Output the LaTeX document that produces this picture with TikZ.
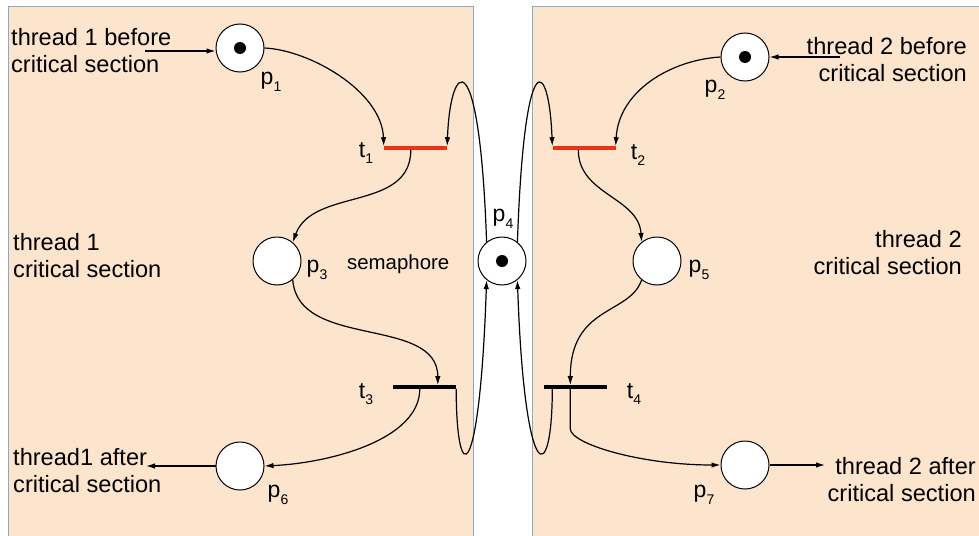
\documentclass[tikz,border=0pt]{standalone}
\usepackage{fontspec}
\setmainfont{Liberation Sans}
\usetikzlibrary{positioning,calc,arrows.meta}
\definecolor{PanelFill}{RGB}{253,228,205}
\definecolor{PanelLine}{RGB}{140,168,200}
\definecolor{FireRed}{RGB}{236,50,18}
\newcommand{\idx}[2]{#1\raisebox{-6.5pt}{\fontsize{14}{14}\selectfont #2}}

\begin{document}
\begin{tikzpicture}[x=1pt, y=-1pt,
  place/.style={circle, draw, fill=white, line width=1pt, minimum size=48pt, inner sep=0pt},
  tbar/.style={rectangle, fill=black, minimum width=63pt, minimum height=3.2pt, inner sep=0pt},
  tfire/.style={tbar, fill=FireRed},
  lbl/.style={inner sep=0pt, font=\fontsize{23}{26}\selectfont},
  txt/.style={inner sep=0pt, font=\fontsize{23.6}{27}\selectfont},
  arcline/.style={-{Latex[length=9pt,width=5.5pt]}, line width=1.2pt}
]
  \useasboundingbox (0,0) rectangle (979,535);
  \clip (0,0) rectangle (979,535);

  % the two thread panels
  \fill[PanelFill] (8,7) rectangle (473,545);
  \draw[PanelLine, line width=1pt] (8,545) -- (8,7) -- (473,7) -- (473,545);
  \fill[PanelFill] (532,7) rectangle (990,545);
  \draw[PanelLine, line width=1pt] (532,545) -- (532,7) -- (990,7);

  % places
  \node[place] (p1) at (240,48) {};
  \node[place] (p2) at (745,57) {};
  \node[place] (p3) at (277,261) {};
  \node[place] (p4) at (502,261) {};
  \node[place] (p5) at (657,261) {};
  \node[place] (p6) at (240,466) {};
  \node[place] (p7) at (745,465) {};
  \foreach \p in {p1,p2,p4} \fill (\p) circle[radius=6];

  % transitions
  \node[tfire] (t1) at (415.5,148) {};
  \node[tfire] (t2) at (584,148) {};
  \node[tbar] (t3) at (424.5,387) {};
  \node[tbar] (t4) at (575,387) {};

  % labels
  \node[lbl] (lp1) at (271,82) {\idx{p}{1}};
  \node[lbl] (lp2) at (715,90) {\idx{p}{2}};
  \node[lbl] (lp3) at (317,270) {\idx{p}{3}};
  \node[lbl] (lp4) at (503,219) {\idx{p}{4}};
  \node[lbl] (lp5) at (699,270) {\idx{p}{5}};
  \node[lbl] (lp6) at (278,495) {\idx{p}{6}};
  \node[lbl] (lp7) at (704,495) {\idx{p}{7}};
  \node[lbl] (lt1) at (366,153) {\idx{t}{1}};
  \node[lbl] (lt2) at (638,155) {\idx{t}{2}};
  \node[lbl] (lt3) at (366,394) {\idx{t}{3}};
  \node[lbl] (lt4) at (634,394) {\idx{t}{4}};
  \node[lbl, anchor=base west, font=\fontsize{20.4}{24}\selectfont] (sem) at (347,269) {semaphore};

  % side texts
  \node[txt, anchor=north west, align=left] (before1) at (11,28) {thread 1 before\\critical section};
  \node[txt, anchor=north east, align=right] (before2) at (967,37) {thread 2 before\\critical section};
  \node[txt, anchor=north west, align=left] (crit1) at (13,233) {thread 1\\critical section};
  \node[txt, anchor=north east, align=right] (crit2) at (962,230) {thread 2\\critical section};
  \node[txt, anchor=north west, align=left] (after1) at (13,448) {thread1 after\\critical section};
  \node[txt, anchor=north east, align=right] (after2) at (976,457) {thread 2 after\\critical section};

  % free ends
  \coordinate (in1) at (145,51);
  \coordinate (in2) at (840,57);
  \coordinate (out1) at (146,466);
  \coordinate (out2) at (825,465);

  % thread 1
  \draw[arcline] (in1) -- (in1 -| p1.west);
  \draw[arcline] (p1.east) .. controls +(45,2) and +(-2,-55) .. (t1.north west);
  \draw[arcline] ([xshift=27pt]t1.south west) .. controls +(0,62) and +(20,-55) .. (p3.50);
  \draw[arcline] (p3.-50) .. controls +(5,70) and +(0,-70) .. ([xshift=45pt]t3.north west);
  \draw[arcline] ([xshift=27pt]t3.south west) .. controls +(0,51) and +(65,-3) .. (p6.east);
  \draw[arcline] (p6) -- (out1);

  % thread 2
  \draw[arcline] (in2) -- (in2 -| p2.east);
  \draw[arcline] (p2.west) .. controls +(-50,3) and +(3,-55) .. (t2.north east);
  \draw[arcline] ([xshift=26pt]t2.south west) .. controls +(0,45) and +(-3,-45) .. (p5.129);
  \draw[arcline] (p5.-129) .. controls +(-12,35) and +(0,-80) .. ([xshift=27pt]t4.north west);
  \draw[arcline] ([xshift=27pt]t4.south west) -- ++(0,40) .. controls +(0,15) and +(-80,0) .. (p7.west);
  \draw[arcline] (p7) -- (out2);

  % semaphore loops
  \draw[arcline] (p4.129) .. controls +(-7,-204) and +(3,-86) .. (t1.north east);
  \draw[arcline] (p4.51) .. controls +(7,-204) and +(-3,-86) .. (t2.north west);
  \draw[arcline] (t3.south east) .. controls +(0,100) and +(-7,208) .. (p4.231);
  \draw[arcline] ([xshift=9pt]t4.south west) .. controls +(0,100) and +(7,208) .. (p4.-51);
\end{tikzpicture}
\end{document}
